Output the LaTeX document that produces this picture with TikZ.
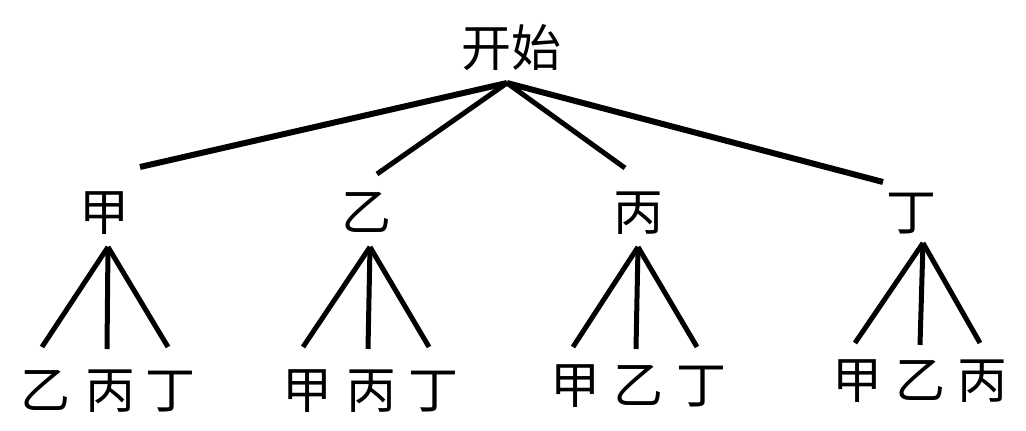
\documentclass[tikz,border=0pt]{standalone}
\usepackage{fontspec}
\newfontfamily\cjk{Noto Sans CJK SC}
\begin{document}
\begin{tikzpicture}[x=1pt,y=1pt,
  lbl/.style={font=\cjk\fontsize{50}{50}\selectfont, inner sep=0pt, outer sep=0pt,
              text height=42pt, text depth=-4pt, anchor=center},
  edge/.style={line width=5pt, black},
  thick edge/.style={line width=6pt, black}]
\useasboundingbox (0,0) rectangle (1026,431);
% root and level 1 (y = 431 - image y)
\node[lbl] (root) at (511,385) {开始};
\node[lbl] (jia)  at (104,221) {甲};
\node[lbl] (yi)   at (366,221) {乙};
\node[lbl] (bing) at (638,221) {丙};
\node[lbl] (ding) at (911,221) {丁};
% leaves
\node[lbl] (a1) at (45,43)  {乙};
\node[lbl] (a2) at (110,43) {丙};
\node[lbl] (a3) at (170,43) {丁};
\node[lbl] (b1) at (307,43) {甲};
\node[lbl] (b2) at (371,43) {丙};
\node[lbl] (b3) at (433,43) {丁};
\node[lbl] (c1) at (575,48) {甲};
\node[lbl] (c2) at (638,48) {乙};
\node[lbl] (c3) at (701,48) {丁};
\node[lbl] (d1) at (857,53) {甲};
\node[lbl] (d2) at (920,53) {乙};
\node[lbl] (d3) at (982,53) {丙};
% apexes
\coordinate (r0) at ([shift={(-4,-37)}]root.center);
\coordinate (ja) at ([shift={(4,-37)}]jia.center);
\coordinate (ya) at ([shift={(4,-37)}]yi.center);
\coordinate (ba) at ([shift={(0,-37)}]bing.center);
\coordinate (da) at ([shift={(12,-33)}]ding.center);
% root edges
\draw[thick edge] (r0) -- ([shift={(36,43)}]jia.center);
\draw[edge] (r0) -- ([shift={(11,36)}]yi.center);
\draw[edge] (r0) -- ([shift={(-13,42)}]bing.center);
\draw[thick edge] (r0) -- ([shift={(-28,28)}]ding.center);
% leaf edges
\draw[edge] (ja) -- ([shift={(-3,41)}]a1.center);
\draw[edge] (ja) -- ([shift={(-3,39)}]a2.center);
\draw[edge] (ja) -- ([shift={(-2,41)}]a3.center);
\draw[edge] (ya) -- ([shift={(-4,41)}]b1.center);
\draw[edge] (ya) -- ([shift={(-3,39)}]b2.center);
\draw[edge] (ya) -- ([shift={(-4,41)}]b3.center);
\draw[edge] (ba) -- ([shift={(-2,36)}]c1.center);
\draw[edge] (ba) -- ([shift={(-2,34)}]c2.center);
\draw[edge] (ba) -- ([shift={(-4,36)}]c3.center);
\draw[edge] (da) -- ([shift={(-2,35)}]d1.center);
\draw[edge] (da) -- ([shift={(0,33)}]d2.center);
\draw[edge] (da) -- ([shift={(-2,35)}]d3.center);
\end{tikzpicture}
\end{document}
